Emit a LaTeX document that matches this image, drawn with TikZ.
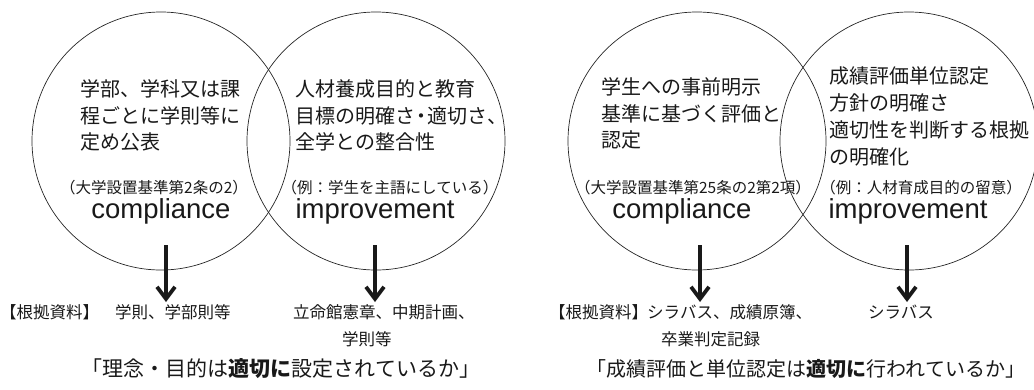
\documentclass[tikz,border=0pt]{standalone}
\usepackage{fontspec}
\setmainfont{Liberation Sans}
\newfontfamily\jp{Noto Sans CJK JP}
\newfontfamily\lat{Liberation Sans}
\usetikzlibrary{arrows.meta}
\begin{document}
\begin{tikzpicture}[x=1pt,y=-1pt,
  circ/.style={draw=black!85, line width=0.7pt, circle, minimum size=258pt, inner sep=0pt},
  jtext/.style={font=\jp\fontsize{20}{26.5}\selectfont, align=left, anchor=base west, inner sep=0pt, text=black!90},
  paren/.style={font=\jp\fontsize{15.5}{18}\selectfont, anchor=base, inner sep=0pt, text=black!90},
  eng/.style={font=\lat\fontsize{27.5}{30}\selectfont, anchor=base, inner sep=0pt, text=black!90},
  lab/.style={font=\jp\fontsize{16.5}{27}\selectfont, inner sep=0pt, text=black!90},
  ttl/.style={font=\jp\fontsize{21}{25}\selectfont, anchor=base, inner sep=0pt, text=black!90},
  bigarrow/.style={line width=3.8pt, black!90, -{Straight Barb[length=12pt,width=18pt]}}
]
\useasboundingbox (0,0) rectangle (1034,389);

% circles
\node[circ] (c1) at (161,141) {};
\node[circ] (c2) at (376,141) {};
\node[circ] (c3) at (697,141) {};
\node[circ] (c4) at (909,141) {};

% main texts (anchor = baseline of the last line)
\node[jtext] (t1) at (80,149.5) {学部、学科又は課\\程ごとに学則等に\\定め公表};
\node[jtext] (t2) at (295,149.5) {人材養成目的と教育\\目標の明確さ\hspace{-4pt}・\hspace{-4pt}適切さ、\\全学との整合性};
\node[jtext] (t3) at (601,147.5) {学生への事前明示\\基準に基づく評価と\\認定};
\node[jtext, font=\jp\fontsize{20}{27}\selectfont] (t4) at (829,164.5) {成績評価単位認定\\方針の明確さ\\適切性を判断する根拠\\の明確化};

% parentheticals
\node[paren] (p1) at (154,193) {（大学設置基準第2条の2）};
\node[paren] (p2) at (390,193) {（例：学生を主語にしている）};
\node[paren] (p3) at (693,193) {（大学設置基準第25条の2第2項）};
\node[paren] (p4) at (921,193) {（例：人材育成目的の留意）};

% english
\node[eng] (e1) at (161,218) {compliance};
\node[eng] (e2) at (375,218) {improvement};
\node[eng] (e3) at (682,218) {compliance};
\node[eng] (e4) at (908,218) {improvement};

% arrows
\coordinate (a1s) at (166,245); \coordinate (a1e) at (166,302);
\coordinate (a2s) at (375,245); \coordinate (a2e) at (375,302);
\coordinate (a3s) at (700,245); \coordinate (a3e) at (700,302);
\coordinate (a4s) at (907,245); \coordinate (a4e) at (907,302);
\draw[bigarrow] (a1s) -- (a1e);
\draw[bigarrow] (a2s) -- (a2e);
\draw[bigarrow] (a3s) -- (a3e);
\draw[bigarrow] (a4s) -- (a4e);

% evidence labels
\node[lab, anchor=base west] (k1) at (0,318) {【根拠資料】};
\node[lab, anchor=base west] (l1) at (115,318) {学則、学部則等};
\node[lab, anchor=base west, align=left] (l2) at (293,345) {立命館憲章、中期計画、\\\hspace*{49pt}学則等};
\node[lab, anchor=base west] (k2) at (549,318) {【根拠資料】};
\node[lab, anchor=base west, align=left] (l3) at (647,345) {シラバス、成績原簿、\\\hspace*{14pt}卒業判定記録};
\node[lab, anchor=base] (l4) at (901,318) {シラバス};

% titles
\node[ttl] (s1) at (281,376) {「理念・目的は{\bfseries 適切に}設定されているか」};
\node[ttl, font=\jp\fontsize{20}{25}\selectfont] (s2) at (806,376) {「成績評価と単位認定は{\bfseries 適切に}行われているか」};
\end{tikzpicture}
\end{document}
